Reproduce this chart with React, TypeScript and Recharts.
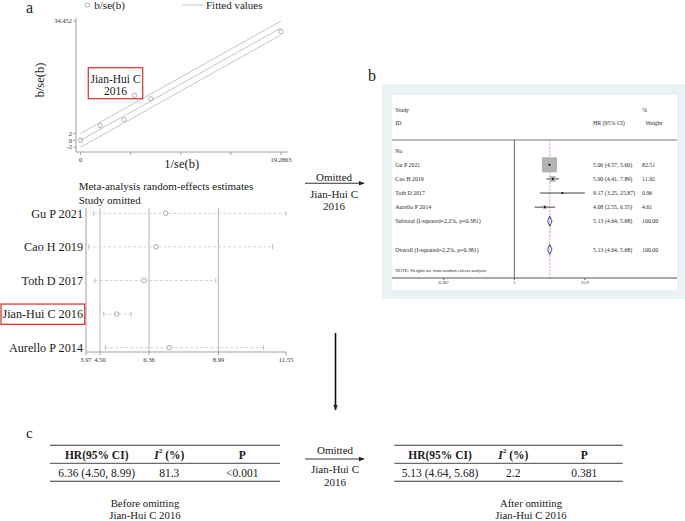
import React from "react";
import { ScatterChart, Scatter, XAxis, YAxis, ReferenceLine } from "recharts";

const FONT = '"Liberation Serif", "Times New Roman", serif';

// ---------- Panel a (top): Galbraith plot ----------
const galbraithX = [0, 1.89, 4.19, 5.18, 6.75, 19.2863];
const galbraithY = [0, 4.26, 6.0, 12.95, 11.97, 31.4];
const fitX = [0, 19.2863];
const fitMid = [0, 32.452];
const fitUpper = [2, 34.452];
const fitLower = [-2, 30.452];
const galbraithYTicks = [-2, 0, 2, 34.452];
const galbraithXTicks = [0, 4.8216, 9.6432, 14.4647, 19.2863];
const galbraithXTickLabels = ["0", "", "", "", "19.2863"];

// ---------- Panel a (bottom): influence (study omitted) ----------
const omittedStudies = ["Gu P 2021", "Cao H 2019", "Toth D 2017", "Jian-Hui C 2016", "Aurello P 2014"];
const omittedEst = [6.99, 6.62, 6.17, 5.13, 7.12];
const omittedLo = [4.25, 4.06, 4.3, 4.64, 4.7];
const omittedHi = [11.55, 11.04, 8.89, 5.68, 10.7];
const influenceRefLines = [4.5, 6.36, 8.99];
const influenceTicks = [3.97, 4.5, 6.36, 8.99, 11.55];
const highlightStudy = "Jian-Hui C 2016";

// ---------- Panel b: forest plot after omission ----------
const forestStudies = ["Gu P 2021", "Cao H 2019", "Toth D 2017", "Aurello P 2014"];
const forestHR = [5.06, 5.9, 9.17, 4.08];
const forestLo = [4.57, 4.41, 3.25, 2.55];
const forestHi = [5.6, 7.89, 25.87, 6.55];
const forestWeight = [82.51, 11.92, 0.96, 4.61];
const pooledHR = 5.13;
const pooledLo = 4.64;
const pooledHi = 5.68;
const pooledI2 = "2.2";
const pooledP = "0.381";
const forestTickValues = [0.0387, 1, 25.9];
const forestTickLabels = ["0.387", "1", "25.9"];

// ---------- Panel c: tables ----------
const tableHeaders = ["HR(95% CI)", "I2", "P"];
const beforeRow = ["6.36 (4.50, 8.99)", "81.3", "<0.001"];
const afterRow = ["5.13 (4.64, 5.68)", "2.2", "0.381"];

// ---------- derived chart data ----------
const galbraithPoints = galbraithX.map((x, i) => ({ x, y: galbraithY[i] }));
const fitLine = (ys: number[]) => fitX.map((x, i) => ({ x, y: ys[i] }));

const influenceData = omittedStudies.map((s, i) => ({
  name: s,
  y: i + 1,
  x: omittedEst[i],
  lo: omittedLo[i],
  hi: omittedHi[i],
}));

const FOREST_XMIN = -5.636;
const FOREST_XMAX = 7.498;
const forestRowIndex = (i: number) => i + 2;
const forestData = forestStudies.map((s, i) => ({
  name: s,
  x: Math.log(forestHR[i]),
  y: forestRowIndex(i),
  lo: Math.log(forestLo[i]),
  hi: Math.log(forestHi[i]),
  w: forestWeight[i],
}));
const maxWeight = Math.max(...forestWeight);
const fmtCI = (e: number, l: number, h: number) => `${e.toFixed(2)} (${l.toFixed(2)}, ${h.toFixed(2)})`;
const DIAMOND_H = 0.36;
const diamond = (row: number) => [
  { x: Math.log(pooledLo), y: row },
  { x: Math.log(pooledHR), y: row - DIAMOND_H },
  { x: Math.log(pooledHi), y: row },
  { x: Math.log(pooledHR), y: row + DIAMOND_H },
  { x: Math.log(pooledLo), y: row },
];

type RowText = { row: number; cols: string[]; small?: boolean };
const forestText: RowText[] = [
  { row: -1.92, cols: ["Study", "", "%"] },
  { row: -0.98, cols: ["ID", "HR (95% CI)", "Weight"] },
  { row: 1, cols: ["No", "", ""] },
  ...forestStudies.map((s, i) => ({
    row: forestRowIndex(i),
    cols: [s, fmtCI(forestHR[i], forestLo[i], forestHi[i]), forestWeight[i].toFixed(2)],
  })),
  { row: 6, cols: [`Subtotal  (I-squared=${pooledI2}%, p=${pooledP})`, fmtCI(pooledHR, pooledLo, pooledHi), "100.00"] },
  { row: 8, cols: [`Overall  (I-squared=${pooledI2}%, p=${pooledP})`, fmtCI(pooledHR, pooledLo, pooledHi), "100.00"] },
  { row: 9.48, cols: ["NOTE: Weights are from random effects analysis", "", ""], small: true },
];
const forestTextData = forestText.map((t) => ({ x: FOREST_XMIN, y: t.row, cols: t.cols, small: !!t.small }));
const FOREST_TOP = 0.242;
const FOREST_BOTTOM = 10.02;

const Empty = () => <g />;

const HollowCircle = (p: any) => (
  <circle cx={p.cx} cy={p.cy} r={2.2} fill="none" stroke="#a8a8a8" strokeWidth={0.9} />
);
const InfluenceCircle = (p: any) => (
  <circle cx={p.cx} cy={p.cy} r={2.3} fill="white" stroke="#a0a0a0" strokeWidth={0.9} />
);
const Cap = (p: any) => (
  <line x1={p.cx} x2={p.cx} y1={p.cy - 2.5} y2={p.cy + 2.5} stroke="#b8b8b8" strokeWidth={0.9} />
);
const WeightBox = (p: any) => {
  const side = 15 * Math.sqrt(p.payload.w / maxWeight);
  return <rect x={p.cx - side / 2} y={p.cy - side / 2} width={side} height={side} fill="#b3b3b3" />;
};
const Dot = (p: any) => <circle cx={p.cx} cy={p.cy} r={1.1} fill="#111" />;

const colOffsets = [3.3, 201, 250];
const RowTextShape = (p: any) => {
  const cols: string[] = p.payload.cols;
  const small: boolean = p.payload.small;
  return (
    <g>
      {cols.map((c, i) =>
        c ? (
          <text
            key={i}
            x={p.cx + (c === "Weight" ? 253.5 : colOffsets[i])}
            y={p.cy}
            dy="0.35em"
            fontSize={small ? 4.6 : 5.9}
            fontFamily={FONT}
            fill="#2a2a2a"
          >
            {c}
          </text>
        ) : null
      )}
    </g>
  );
};

const InfluenceTick = (p: any) => {
  const name = omittedStudies[p.payload.value - 1];
  const hl = name === highlightStudy;
  return (
    <g>
      {hl && (
        <rect x={1} y={p.y - 10} width={83.7} height={20.3} fill="none" stroke="#e53935" strokeWidth={1.3} />
      )}
      <text x={83} y={p.y} dy="0.36em" textAnchor="end" fontSize={12.2} fontFamily={FONT} fill="#1a1a1a">
        {name}
      </text>
    </g>
  );
};

const T = (props: any) => (
  <text fontFamily={FONT} fill="#1a1a1a" dominantBaseline="central" {...props} />
);

const I2Label = ({ x, y, bold }: { x: number; y: number; bold?: boolean }) => (
  <T x={x} y={y} fontSize={11.5} textAnchor="middle" fontWeight={bold ? "bold" : "normal"}>
    <tspan fontStyle="italic">I</tspan>
    <tspan fontSize={7} dy={-4}>2</tspan>
    <tspan dy={4}> (%)</tspan>
  </T>
);

const Table = ({ x0, x1, cx, row }: { x0: number; x1: number; cx: number[]; row: string[] }) => (
  <g>
    <line x1={x0} x2={x1} y1={445.3} y2={445.3} stroke="#333" strokeWidth={1.1} />
    <line x1={x0} x2={x1} y1={463.3} y2={463.3} stroke="#333" strokeWidth={0.9} />
    <line x1={x0} x2={x1} y1={481.3} y2={481.3} stroke="#333" strokeWidth={1.1} />
    <T x={cx[0]} y={455} fontSize={11.5} fontWeight="bold" textAnchor="middle">{tableHeaders[0]}</T>
    <I2Label x={cx[1]} y={455} bold />
    <T x={cx[2]} y={455} fontSize={11.5} fontWeight="bold" textAnchor="middle">{tableHeaders[2]}</T>
    {row.map((v, i) => (
      <T key={i} x={cx[i]} y={473} fontSize={11.5} textAnchor="middle">{v}</T>
    ))}
  </g>
);

export default function App() {
  return (
    <div style={{ position: "absolute", left: 0, top: 0, width: 685, height: 521, background: "white", overflow: "hidden" }}>
      {/* Panel a top: Galbraith */}
      <div style={{ position: "absolute", left: 0, top: 0 }}>
        <ScatterChart width={300} height={175} margin={{ top: 18, right: 12, bottom: 3, left: 46 }}>
          <XAxis
            type="number"
            dataKey="x"
            domain={[-0.442, 19.96]}
            ticks={galbraithXTicks}
            interval={0}
            tickFormatter={(v: number, i: number) => galbraithXTickLabels[i]}
            tick={{ fontSize: 6.5, fill: "#333", fontFamily: FONT }}
            tickSize={3}
            height={20}
            stroke="#a0a0a0"
          />
          <YAxis
            type="number"
            dataKey="y"
            domain={[-3.39, 35.32]}
            ticks={galbraithYTicks}
            interval={0}
            tick={{ fontSize: 6.5, fill: "#333", fontFamily: FONT }}
            tickSize={3}
            tickMargin={1}
            width={30}
            stroke="#a0a0a0"
          />
          <Scatter data={fitLine(fitUpper)} line={{ stroke: "#c6c6c6", strokeWidth: 1 }} shape={Empty} isAnimationActive={false} />
          <Scatter data={fitLine(fitMid)} line={{ stroke: "#c6c6c6", strokeWidth: 1 }} shape={Empty} isAnimationActive={false} />
          <Scatter data={fitLine(fitLower)} line={{ stroke: "#c6c6c6", strokeWidth: 1 }} shape={Empty} isAnimationActive={false} />
          <Scatter data={galbraithPoints} shape={HollowCircle} isAnimationActive={false} />
        </ScatterChart>
      </div>

      {/* Panel a bottom: influence */}
      <div style={{ position: "absolute", left: 0, top: 170 }}>
        <ScatterChart width={300} height={200} margin={{ top: 38, right: 14, bottom: 0, left: 0 }}>
          <XAxis
            type="number"
            dataKey="x"
            domain={[3.97, 11.55]}
            ticks={influenceTicks}
            interval={0}
            tickFormatter={(v: number) => v.toFixed(2)}
            tick={{ fontSize: 6.5, fill: "#333", fontFamily: FONT }}
            tickSize={3}
            height={18}
            stroke="#a0a0a0"
          />
          <YAxis
            type="number"
            dataKey="y"
            reversed
            domain={[0.842, 5.13]}
            ticks={[1, 2, 3, 4, 5]}
            interval={0}
            tick={InfluenceTick}
            tickLine={false}
            width={86}
            stroke="#a0a0a0"
          />
          {influenceRefLines.map((v) => (
            <ReferenceLine key={v} x={v} stroke="#b5b5b5" strokeWidth={1} />
          ))}
          {influenceData.map((d) => (
            <ReferenceLine
              key={d.name}
              segment={[{ x: d.lo, y: d.y }, { x: d.hi, y: d.y }]}
              stroke="#cfcfcf"
              strokeDasharray="3 2"
              strokeWidth={0.9}
            />
          ))}
          <Scatter data={influenceData.map((d) => ({ x: d.lo, y: d.y }))} shape={Cap} isAnimationActive={false} />
          <Scatter data={influenceData.map((d) => ({ x: d.hi, y: d.y }))} shape={Cap} isAnimationActive={false} />
          <Scatter data={influenceData} shape={InfluenceCircle} isAnimationActive={false} />
        </ScatterChart>
      </div>

      {/* Panel b background */}
      <div style={{ position: "absolute", left: 381.7, top: 84, width: 303.3, height: 215.3, background: "#eaf2f3" }} />
      <div style={{ position: "absolute", left: 391.7, top: 95, width: 285, height: 195, background: "white" }} />
      <div style={{ position: "absolute", left: 391.7, top: 95 }}>
        <ScatterChart width={285} height={195} margin={{ top: 0, right: 0, bottom: 0, left: 0 }}>
          <XAxis
            type="number"
            dataKey="x"
            domain={[FOREST_XMIN, FOREST_XMAX]}
            ticks={forestTickValues.map((v) => Math.log(v))}
            interval={0}
            tickFormatter={(v: number, i: number) => forestTickLabels[i]}
            tick={{ fontSize: 4.6, fill: "#333", fontFamily: FONT }}
            tickSize={2}
            tickMargin={1}
            height={12}
            stroke="#555"
          />
          <YAxis type="number" dataKey="y" reversed domain={[-2.945, FOREST_BOTTOM]} hide />
          <ReferenceLine y={FOREST_TOP} stroke="#555" strokeWidth={0.8} />
          <ReferenceLine segment={[{ x: 0, y: FOREST_TOP }, { x: 0, y: FOREST_BOTTOM }]} stroke="#444" strokeWidth={0.8} />
          <ReferenceLine
            segment={[{ x: Math.log(pooledHR), y: FOREST_TOP }, { x: Math.log(pooledHR), y: FOREST_BOTTOM }]}
            stroke="#e38b8b"
            strokeDasharray="2 1.5"
            strokeWidth={0.9}
          />
          <Scatter data={forestTextData} shape={RowTextShape} isAnimationActive={false} />
          <Scatter data={forestData} shape={WeightBox} isAnimationActive={false} />
          {forestData.map((d) => (
            <ReferenceLine
              key={d.name}
              segment={[{ x: d.lo, y: d.y }, { x: d.hi, y: d.y }]}
              stroke="#111"
              strokeWidth={0.8}
            />
          ))}
          <Scatter data={forestData} shape={Dot} isAnimationActive={false} />
          <Scatter data={diamond(6)} line={{ stroke: "#2a2a8a", strokeWidth: 0.9 }} shape={Empty} isAnimationActive={false} />
          <Scatter data={diamond(8)} line={{ stroke: "#2a2a8a", strokeWidth: 0.9 }} shape={Empty} isAnimationActive={false} />
        </ScatterChart>
      </div>

      {/* Annotation overlay */}
      <svg width={685} height={521} style={{ position: "absolute", left: 0, top: 0, pointerEvents: "none" }}>
        <defs>
          <marker id="ah" markerWidth="6" markerHeight="6" refX="5" refY="3" orient="auto" markerUnits="userSpaceOnUse">
            <path d="M0,0.8 L5.5,3 L0,5.2 Z" fill="#222" />
          </marker>
        </defs>
        {/* panel labels */}
        <T x={26} y={7} fontSize={16}>a</T>
        <T x={368} y={75} fontSize={16}>b</T>
        <T x={26} y={433} fontSize={15}>c</T>

        {/* legend a */}
        <circle cx={87.3} cy={5} r={2.2} fill="none" stroke="#a8a8a8" strokeWidth={0.9} />
        <T x={94.3} y={5} fontSize={11}>b/se(b)</T>
        <line x1={181.7} x2={203.3} y1={5} y2={5} stroke="#c6c6c6" strokeWidth={1} />
        <T x={206} y={5} fontSize={11}>Fitted values</T>

        {/* axis titles a */}
        <T x={40} y={80} fontSize={12.5} textAnchor="middle" transform="rotate(-90 40 80)">b/se(b)</T>
        <T x={181.7} y={164} fontSize={12.5} textAnchor="middle">1/se(b)</T>

        {/* highlight box in Galbraith plot */}
        <rect x={88.3} y={67.7} width={54.4} height={31} fill="none" stroke="#e53935" strokeWidth={1.3} />
        <T x={115.5} y={78.5} fontSize={11.5} textAnchor="middle">Jian-Hui C</T>
        <T x={115.5} y={90.5} fontSize={11.5} textAnchor="middle">2016</T>

        {/* influence title */}
        <T x={78.7} y={186} fontSize={11}>Meta-analysis random-effects estimates</T>
        <T x={78.7} y={200} fontSize={11}>Study omitted</T>

        {/* arrow a -> b */}
        <T x={334} y={176.7} fontSize={11} textAnchor="middle">Omitted</T>
        <line x1={305} x2={364} y1={183.3} y2={183.3} stroke="#333" strokeWidth={1.1} markerEnd="url(#ah)" />
        <T x={334} y={193.5} fontSize={11} textAnchor="middle">Jian-Hui C</T>
        <T x={334} y={205.5} fontSize={11} textAnchor="middle">2016</T>

        {/* down arrow */}
        <line x1={335.5} x2={335.5} y1={333} y2={410} stroke="#111" strokeWidth={1.6} markerEnd="url(#ah)" />

        {/* panel c */}
        <Table x0={50} x1={280} cx={[96.7, 169.3, 242.3]} row={beforeRow} />
        <Table x0={394.3} x1={622.7} cx={[440, 513.3, 584.3]} row={afterRow} />
        <T x={335} y={450} fontSize={11} textAnchor="middle">Omitted</T>
        <line x1={305} x2={364} y1={459} y2={459} stroke="#333" strokeWidth={1.1} markerEnd="url(#ah)" />
        <T x={335} y={469.3} fontSize={11} textAnchor="middle">Jian-Hui C</T>
        <T x={335} y={482.3} fontSize={11} textAnchor="middle">2016</T>
        <T x={145} y={502.5} fontSize={10.8} textAnchor="middle">Before omitting</T>
        <T x={145} y={514.8} fontSize={10.8} textAnchor="middle">Jian-Hui C 2016</T>
        <T x={531} y={502.5} fontSize={10.8} textAnchor="middle">After omitting</T>
        <T x={531} y={514.8} fontSize={10.8} textAnchor="middle">Jian-Hui C 2016</T>
      </svg>
    </div>
  );
}
